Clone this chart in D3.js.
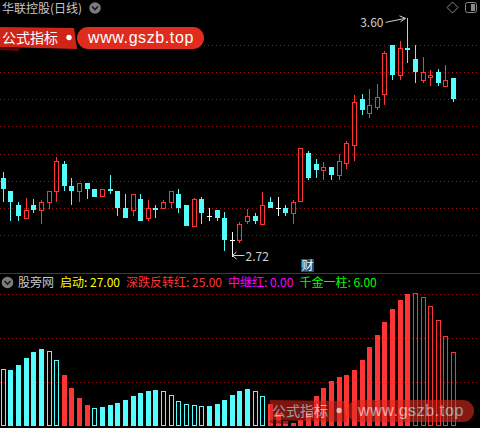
<!DOCTYPE html>
<html><head><meta charset="utf-8">
<script src="https://cdn.jsdelivr.net/npm/d3@7"></script>
<style>html,body{margin:0;padding:0;background:#000;overflow:hidden}svg{display:block}</style>
</head><body><svg id="c" width="480" height="428"></svg>
<script>
// ---------- data ----------
const opens  = [3.010,2.962,2.910,2.860,2.910,2.889,2.919,2.959,3.061,2.980,2.959,2.991,2.969,2.939,2.969,2.962,2.899,2.889,2.932,2.860,2.899,2.897,2.919,2.951,2.910,2.830,2.932,2.869,2.892,2.862,2.783,2.778,2.849,2.870,2.838,2.921,2.898,2.899,2.878,2.920,3.103,3.061,3.037,3.049,3.018,3.060,3.129,3.301,3.247,3.269,3.317,3.500,3.387,3.489,3.448,3.368,3.377,3.400,3.346,3.378];
const highs  = [3.032,2.962,2.921,2.935,2.932,2.929,2.961,3.086,3.073,3.010,2.990,2.991,2.969,2.968,3.021,2.962,2.951,2.951,2.951,2.929,2.910,2.929,2.961,2.969,2.910,2.935,2.940,2.899,2.892,2.885,2.812,2.849,2.895,2.880,2.958,2.940,2.940,2.910,2.929,3.119,3.109,3.080,3.068,3.049,3.098,3.147,3.316,3.319,3.338,3.356,3.479,3.500,3.515,3.600,3.500,3.455,3.408,3.412,3.426,3.378];
const lows   = [2.921,2.853,2.853,2.860,2.881,2.841,2.897,2.923,2.963,2.912,2.923,2.934,2.941,2.939,2.952,2.871,2.864,2.871,2.853,2.851,2.862,2.897,2.900,2.882,2.834,2.830,2.841,2.853,2.853,2.742,2.720,2.771,2.841,2.841,2.838,2.900,2.871,2.871,2.841,2.920,3.003,3.011,3.003,3.003,3.003,3.042,3.074,3.242,3.232,3.260,3.279,3.371,3.371,3.433,3.361,3.359,3.350,3.350,3.346,3.290];
const closes = [2.969,2.923,2.871,2.891,2.892,2.920,2.961,3.071,2.982,2.963,2.990,2.970,2.941,2.968,2.963,2.900,2.864,2.951,2.853,2.899,2.892,2.921,2.961,2.900,2.834,2.932,2.882,2.869,2.864,2.783,2.783,2.840,2.870,2.851,2.909,2.900,2.898,2.881,2.920,3.119,3.011,3.039,3.049,3.021,3.071,3.139,3.290,3.260,3.279,3.308,3.472,3.389,3.489,3.483,3.402,3.399,3.389,3.361,3.371,3.301];
const priceTicks = [2.8,2.9,3.0,3.1,3.2,3.3,3.4,3.5];

const indValues = [1.30,1.27,1.39,1.55,1.68,1.75,1.70,1.50,1.16,0.86,0.64,0.48,0.41,0.43,0.48,0.52,0.59,0.68,0.75,0.80,0.82,0.80,0.70,0.57,0.50,0.48,0.45,0.45,0.50,0.59,0.70,0.80,0.84,0.80,0.68,0.50,0.30,0.11,0.07,0.14,0.30,0.68,0.86,1.02,1.11,1.16,1.27,1.50,1.80,2.07,2.36,2.66,2.86,3.00,3.02,2.93,2.73,2.41,2.05,1.68];
// c = cyan, r = red ; f = filled, h = hollow
const indKinds  = ['ch','cf','cf','cf','cf','cf','ch','ch','rf','rf','rf','rf','ch','cf','cf','cf','cf','cf','cf','cf','cf','ch','ch','ch','ch','ch','ch','cf','cf','cf','cf','cf','cf','ch','ch','rf','rf','rf','rf','rf','rf','rf','rf','rf','rf','rf','rf','rf','rf','rf','rf','rf','rf','rf','rh','rh','rh','rh','rh','rh'];
const indTicks = [1,2,3];

const title = '华联控股(日线)';
const indName = '股旁网';
const legendNames  = ['启动','深跌反转红','中继红','千金一柱'];
const legendValues = [27.00, 25.00, 0.00, 6.00];

// ---------- setup ----------
const W = 480, H = 428;
const svg = d3.select('#c');
svg.append('rect').attr('width',W).attr('height',H).attr('fill','#000');
const FONT = '"Noto Sans CJK SC","Noto Sans",sans-serif';
const RED = '#ff3434', CYAN = '#54fcfc', GRID = '#9c1a1a';

const n = closes.length;
const x = d3.scalePoint().domain(d3.range(n)).range([3.3, 453.6]);
const y = d3.scaleLinear().domain([2.8, 3.5]).range([235, 45]);
const yb = d3.scaleLinear().domain([0, 3]).range([426, 294]);
const crisp = v => Math.round(v) + 0.5;

// ---------- grids ----------
svg.append('g').selectAll('line').data(priceTicks).join('line')
  .attr('x1',0).attr('x2',W)
  .attr('y1',d=>crisp(y(d))).attr('y2',d=>crisp(y(d)))
  .attr('stroke',GRID).attr('stroke-dasharray','1,3');
svg.append('g').selectAll('line').data(indTicks).join('line')
  .attr('x1',0).attr('x2',W)
  .attr('y1',d=>crisp(yb(d))).attr('y2',d=>crisp(yb(d)))
  .attr('stroke',GRID).attr('stroke-dasharray','1,3');

// ---------- candles ----------
const cg = svg.append('g');
d3.range(n).forEach(i => {
  const o = opens[i], c = closes[i], h = highs[i], l = lows[i];
  const left = Math.round(x(i) - 2.5), mid = left + 2.5;
  const yH = Math.round(y(h)), yL = Math.round(y(l));
  const top = Math.round(y(Math.max(o,c))), bot = Math.round(y(Math.min(o,c)));
  if (c > o) {
    if (yH < top) cg.append('line').attr('x1',mid).attr('x2',mid).attr('y1',yH).attr('y2',top).attr('stroke',RED);
    if (yL > bot) cg.append('line').attr('x1',mid).attr('x2',mid).attr('y1',bot).attr('y2',yL).attr('stroke',RED);
    cg.append('rect').attr('x',left+0.5).attr('y',top+0.5).attr('width',4).attr('height',Math.max(1,bot-top-1))
      .attr('fill','none').attr('stroke',RED);
  } else if (c < o) {
    cg.append('line').attr('x1',mid).attr('x2',mid).attr('y1',yH).attr('y2',yL).attr('stroke',CYAN);
    cg.append('rect').attr('x',left).attr('y',top).attr('width',5).attr('height',Math.max(1,bot-top)).attr('fill',CYAN);
  } else {
    cg.append('line').attr('x1',mid).attr('x2',mid).attr('y1',yH).attr('y2',yL).attr('stroke','#fff');
    cg.append('line').attr('x1',left).attr('x2',left+5).attr('y1',top+0.5).attr('y2',top+0.5).attr('stroke','#fff');
  }
});

// ---------- max / min annotations ----------
const iMax = d3.maxIndex(highs), iMin = d3.minIndex(lows);
const fmt = d3.format('.2f');
{
  const px = Math.round(x(iMax) - 2.5) + 2.5 - 2, py = y(highs[iMax]);
  const ax = px - 20, ay = py + 4.5;
  svg.append('line').attr('x1',ax).attr('y1',ay).attr('x2',px).attr('y2',py+0.5).attr('stroke','#d0d0d0');
  svg.append('path').attr('d',`M${px-6},${py-2}L${px},${py+0.5}L${px-5},${py+4}`).attr('fill','none').attr('stroke','#d0d0d0');
  svg.append('text').attr('x',ax-2).attr('y',ay+5).attr('text-anchor','end')
    .attr('font-family',FONT).attr('font-size',12).attr('fill','#d0d0d0').text(fmt(highs[iMax]));
}
{
  const px = Math.round(x(iMin) - 2.5) + 2.5, py = Math.round(y(lows[iMin])) - 1.5;
  svg.append('line').attr('x1',px).attr('y1',py).attr('x2',px+12).attr('y2',py).attr('stroke','#d0d0d0');
  svg.append('path').attr('d',`M${px+4},${py-3.5}L${px},${py}L${px+4},${py+3.5}`).attr('fill','none').attr('stroke','#d0d0d0');
  svg.append('text').attr('x',px+13).attr('y',py+5).attr('font-family',FONT).attr('font-size',12)
    .attr('fill','#d0d0d0').text(fmt(lows[iMin]));
}

// ---------- 财 marker ----------
svg.append('rect').attr('x',301).attr('y',259).attr('width',13).attr('height',13).attr('fill','#1d4f80');
svg.append('text').attr('x',307.5).attr('y',270).attr('text-anchor','middle').attr('font-family',FONT)
  .attr('font-size',12).attr('fill','#fff').text('财');

// ---------- separator ----------
svg.append('line').attr('x1',0).attr('x2',W).attr('y1',273.5).attr('y2',273.5).attr('stroke','#c80000');

// ---------- indicator bars ----------
const bg = svg.append('g');
d3.range(n).forEach(i => {
  const k = indKinds[i], col = k[0]==='r' ? RED : CYAN;
  const left = Math.round(x(i) - 2.5), top = Math.round(yb(indValues[i])), base = 426;
  if (k[1]==='f') bg.append('rect').attr('x',left).attr('y',top).attr('width',5).attr('height',base-top).attr('fill',col);
  else bg.append('rect').attr('x',left+0.5).attr('y',top+0.5).attr('width',4).attr('height',Math.max(1,base-top-1))
        .attr('fill','none').attr('stroke',col);
});

// ---------- headers ----------
function chevron(cx, cy) {
  svg.append('circle').attr('cx',cx).attr('cy',cy).attr('r',5.8).attr('fill','#7c7c7c');
  svg.append('path').attr('d',`M${cx-3},${cy-1.5}L${cx},${cy+1.5}L${cx+3},${cy-1.5}`)
    .attr('fill','none').attr('stroke','#1a1a1a').attr('stroke-width',1.6);
}
svg.append('text').attr('x',2).attr('y',13).attr('font-family',FONT).attr('font-size',12).attr('fill','#c8c8c8').text(title);
chevron(95, 8);
// top right icons
svg.append('path').attr('d','M452.5,2L458,7.5L452.5,13L447,7.5Z').attr('fill','none').attr('stroke','#8a8a8a');
svg.append('rect').attr('x',465.5).attr('y',2.5).attr('width',11).attr('height',10).attr('rx',2).attr('fill','none').attr('stroke','#8a8a8a');
svg.append('rect').attr('x',471).attr('y',4).attr('width',4).attr('height',7).attr('fill','#8a8a8a');

chevron(7.5, 282.5);
{
  const colors = ['#ffff00', RED, '#ff00ff', '#00ff00'];
  let cx = 18;
  const items = [{t:indName, c:'#c8c8c8'}].concat(legendNames.map((nm,i)=>({t:`${nm}: ${fmt(legendValues[i])}`, c:colors[i]})));
  items.forEach(it => {
    const t = svg.append('text').attr('x',cx).attr('y',287).attr('font-family',FONT).attr('font-size',12)
      .attr('fill',it.c).text(it.t);
    cx += t.node().getComputedTextLength() + 6;
  });
}

// ---------- watermarks ----------
function watermark(ox, oy, alpha) {
  const g = svg.append('g').attr('opacity',alpha);
  g.append('path').attr('d',`M${ox},${oy}L${ox+74},${oy+1}L${ox+77},${oy+22}L${ox},${oy+20}Z`).attr('fill','#d02418');
  g.append('path').attr('d',`M${ox},${oy+20}L${ox+20},${oy+21}L${ox+18},${oy+24}L${ox},${oy+23}Z`).attr('fill','#5a0d08');
  g.append('text').attr('x',ox+2).attr('y',oy+16).attr('font-family',FONT).attr('font-size',14).attr('fill','#fff').text('公式指标');
  g.append('circle').attr('cx',ox+69).attr('cy',oy+10.5).attr('r',2.7).attr('fill','#fff');
  g.append('rect').attr('x',ox+77).attr('y',oy).attr('width',127).attr('height',22).attr('rx',11).attr('fill','#e02c1e');
  g.append('text').attr('x',ox+88).attr('y',oy+16).attr('font-family','"Liberation Sans",Arial,sans-serif')
    .attr('font-size',16).attr('letter-spacing',0.6).attr('fill','#fff').text('www.gszb.top');
}
watermark(0, 27, 1);
watermark(270, 400, 0.6);
</script></body></html>
